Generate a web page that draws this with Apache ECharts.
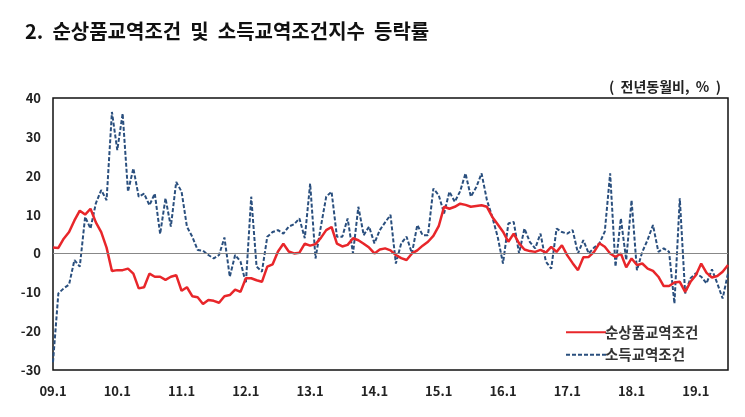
<!DOCTYPE html>
<html><head><meta charset="utf-8">
<script src="https://cdn.jsdelivr.net/npm/echarts@6/dist/echarts.min.js"></script>
<style>html,body{margin:0;padding:0;background:#fff}#c{width:745px;height:417px}</style>
</head><body><div id="c"></div>
<script>
var years = ['09','10','11','12','13','14','15','16','17','18','19'];
var lastYearMonths = 7;
var yTicks = [-30, -20, -10, 0, 10, 20, 30, 40];
var seriesNames = ['순상품교역조건', '소득교역조건'];
var netTerms = [
 1.5, 1.4, 3.8, 5.5, 8.5, 11, 10, 11.5, 8, 5.5, 1.5, -4.5,
 -4.3, -4.3, -3.9, -5.2, -9, -8.7, -5.2, -6, -6, -6.8, -6, -5.6,
 -9.6, -8.7, -11, -11.3, -13, -12, -12.2, -12.7, -11, -10.7, -9.3, -9.9,
 -6.4, -6.4, -6.9, -7.3, -3.4, -2.8, 0.5, 2.5, 0.5, 0, 0.2, 2.5,
 2, 2.4, 4, 6, 6.8, 2.5, 1.8, 2.2, 3.9, 3.4, 2.5, 1.5,
 0, 1, 1.3, 0.8, -0.4, -1.2, -1.7, 0, 0.8, 2, 3, 4.5,
 7, 12, 11.5, 12, 12.8, 12.5, 12, 12.2, 12.4, 12, 9.4, 7.5,
 5.6, 3, 5.1, 2.6, 1, 0.6, 0.4, 0.9, 0.2, 1.7, 0.4, 2.1,
 -0.5, -2.5, -4.3, -1, -0.9, 0.4, 2.6, 1.7, 0, -0.9, 0, -3.6,
 -1.3, -3, -2.6, -3.9, -4.5, -6, -8.4, -8.4, -7.5, -7.3, -9.9, -7.3,
 -5.6, -2.6, -5, -6.2, -5.8, -4.7, -3
];
var incomeTerms = [
 -28, -10.3, -9, -8, -1.7, -3.4, 9.4, 6.4, 12.9, 16.3, 13.7, 36.4,
 26.6, 36, 15.9, 21.9, 14.6, 15.4, 12.4, 15.4, 5, 14.2, 6.9, 18.4,
 15.9, 6.9, 4.3, 0.9, 0.7, -0.4, -1.3, -0.4, 4.1, -6, -0.4, -2.1,
 -7.7, 14.6, -3.4, -4.7, 4.3, 5.5, 6, 5.1, 6.9, 7.5, 9, 3.9,
 18, -1.3, 6.9, 14.6, 15.9, 4.3, 4.3, 9, 0, 12, 4.7, 6.9,
 2.6, 6, 8, 9.9, -2.6, 2.6, 4.3, 0, 7.3, 4.7, 4.7, 16.7,
 15, 10.3, 15.9, 13.3, 16, 20.6, 14.6, 17, 20.6, 13.7, 9.4, 4.3,
 -2.6, 7.7, 8.1, 0, 6.4, 3, 1.3, 5.1, -2.1, -3.9, 6.4, 5.5,
 5.1, 6, 0, 3.4, 0, 1.5, 2.6, 5.6, 20.6, -3.4, 9, -1.7,
 13.7, -4.3, 0.4, 3.5, 7.3, 0.4, 1.3, 0.4, -12.9, 14.2, -10.3, -6.4,
 -5.1, -6, -7.7, -4.1, -7.7, -11.6, -5.1
];
var categories = [];
years.forEach(function(y, k){
  var n = (k === years.length - 1) ? lastYearMonths : 12;
  for (var m = 1; m <= n; m++) categories.push(y + '.' + m);
});

var chart = echarts.init(document.getElementById('c'));
var lblFont = {fontFamily: 'Noto Sans CJK KR, Noto Sans, sans-serif', fontWeight: 'bold', fontSize: 13, color: '#222'};
chart.setOption({
  animation: false,
  backgroundColor: '#fff',
  title: [{
    text: '2.  순상품교역조건  및  소득교역조건지수  등락률',
    left: 20, top: 16,
    textStyle: {fontFamily: 'Noto Sans CJK KR, sans-serif', fontWeight: 'bold', fontSize: 20, color: '#111'}
  }, {
    text: '(  전년동월비,  %  )',
    right: 19, top: 75,
    textStyle: {fontFamily: 'Noto Sans CJK KR, sans-serif', fontWeight: 'bold', fontSize: 14, color: '#222'}
  }],
  grid: {left: 53, right: 17, top: 98, bottom: 47, show: true, borderColor: '#111', borderWidth: 1.5, backgroundColor: '#fff'},
  legend: {
    orient: 'vertical', left: 560, top: 320, itemWidth: 40, itemHeight: 10, itemGap: 8,
    data: seriesNames,
    itemStyle: {opacity: 0},
    textStyle: {fontFamily: 'Noto Sans CJK KR, sans-serif', fontWeight: 'bold', fontSize: 14.5, color: '#333', padding: [0,0,0,-6]}
  },
  xAxis: {
    type: 'category', data: categories, boundaryGap: false,
    axisLine: {show: false}, axisTick: {show: false},
    axisLabel: Object.assign({interval: function(i){ return i % 12 === 0; }, margin: 15}, lblFont),
    splitLine: {show: false}
  },
  yAxis: {
    type: 'value', min: yTicks[0], max: yTicks[yTicks.length-1], interval: 10,
    axisLine: {show: false}, axisTick: {show: false}, splitLine: {show: false},
    axisLabel: Object.assign({margin: 12}, lblFont)
  },
  series: [{
    name: seriesNames[0], type: 'line', data: netTerms, symbol: 'none', z: 3,
    lineStyle: {color: '#e8262a', width: 2.5}, itemStyle: {color: '#e8262a'},
    markLine: {silent: true, symbol: 'none', label: {show: false}, lineStyle: {color: '#888', width: 1, type: 'solid'}, data: [{yAxis: 0}]}
  }, {
    name: seriesNames[1], type: 'line', data: incomeTerms, symbol: 'none', z: 2,
    lineStyle: {color: '#2a4f7e', width: 2, type: [4, 2]}, itemStyle: {color: '#2a4f7e'}
  }]
});
</script></body></html>
